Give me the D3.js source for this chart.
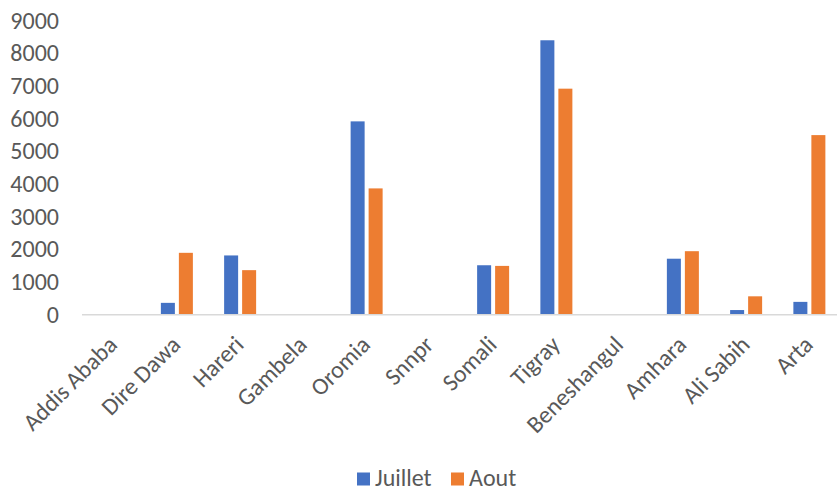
<!DOCTYPE html>
<html>
<head>
<meta charset="utf-8">
<script src="https://cdn.jsdelivr.net/npm/d3@7"></script>
<style>
  html, body { margin: 0; padding: 0; background: #fff; }
  svg { display: block; }
  text { font-family: Calibri, Carlito, "Open Sans", "Noto Sans", sans-serif; fill: #595959; }
</style>
</head>
<body>
<svg id="chart" width="837" height="488"></svg>
<script>
const categories = ["Addis Ababa", "Dire Dawa", "Hareri", "Gambela", "Oromia", "Snnpr", "Somali", "Tigray", "Beneshangul", "Amhara", "Ali Sabih", "Arta"];
const seriesNames = ["Juillet", "Aout"];
const juillet = [0, 350, 1800, 0, 5900, 0, 1500, 8380, 0, 1700, 130, 380];
const aout = [0, 1880, 1350, 0, 3850, 0, 1480, 6900, 0, 1930, 550, 5480];
const yTicks = [0, 1000, 2000, 3000, 4000, 5000, 6000, 7000, 8000, 9000];
const colors = ["#4472C4", "#ED7D31"];

const seriesValues = [juillet, aout];
const svg = d3.select("#chart");

const x = d3.scaleBand().domain(categories).range([82, 841]).paddingInner(0).paddingOuter(0);
const inner = d3.scaleBand().domain(seriesNames)
  .range([x.bandwidth() / 2 - 16, x.bandwidth() / 2 + 16])
  .paddingInner(0.222).paddingOuter(0);
const y = d3.scaleLinear().domain([0, 9000]).range([314.3, 20]);

// y tick labels
svg.append("g").selectAll("text").data(yTicks).join("text")
  .attr("x", 59).attr("y", d => y(d))
  .attr("text-anchor", "end").attr("dominant-baseline", "central")
  .style("font-size", "24px")
  .text(d => d);

// bars
const data = [];
categories.forEach((c, i) => seriesNames.forEach((s, j) => data.push({ c, s, j, v: seriesValues[j][i] })));
svg.append("g").selectAll("rect").data(data.filter(d => d.v > 0)).join("rect")
  .attr("x", d => x(d.c) + inner(d.s))
  .attr("width", inner.bandwidth())
  .attr("y", d => y(d.v))
  .attr("height", d => y(0) - y(d.v))
  .attr("fill", d => colors[d.j]);

// axis line
svg.append("line")
  .attr("x1", 82).attr("x2", 837)
  .attr("y1", y(0) + 0.5).attr("y2", y(0) + 0.5)
  .attr("stroke", "#D9D9D9").attr("stroke-width", 1.5);

// category labels
svg.append("g").selectAll("text").data(categories).join("text")
  .attr("transform", d => `translate(${x(d) + x.bandwidth() / 2 - 1},${340}) rotate(-45)`)
  .attr("text-anchor", "end").attr("dominant-baseline", "central")
  .style("font-size", "24px")
  .text(d => d);

// legend
const legendItems = [{ name: "Juillet", x: 357 }, { name: "Aout", x: 451 }];
const lg = svg.append("g");
legendItems.forEach((it, i) => {
  lg.append("rect").attr("x", it.x).attr("y", 472.5).attr("width", 13).attr("height", 13).attr("fill", colors[i]);
  lg.append("text").attr("x", it.x + 18).attr("y", 485.5).style("font-size", "24px").text(it.name);
});
</script>
</body>
</html>
